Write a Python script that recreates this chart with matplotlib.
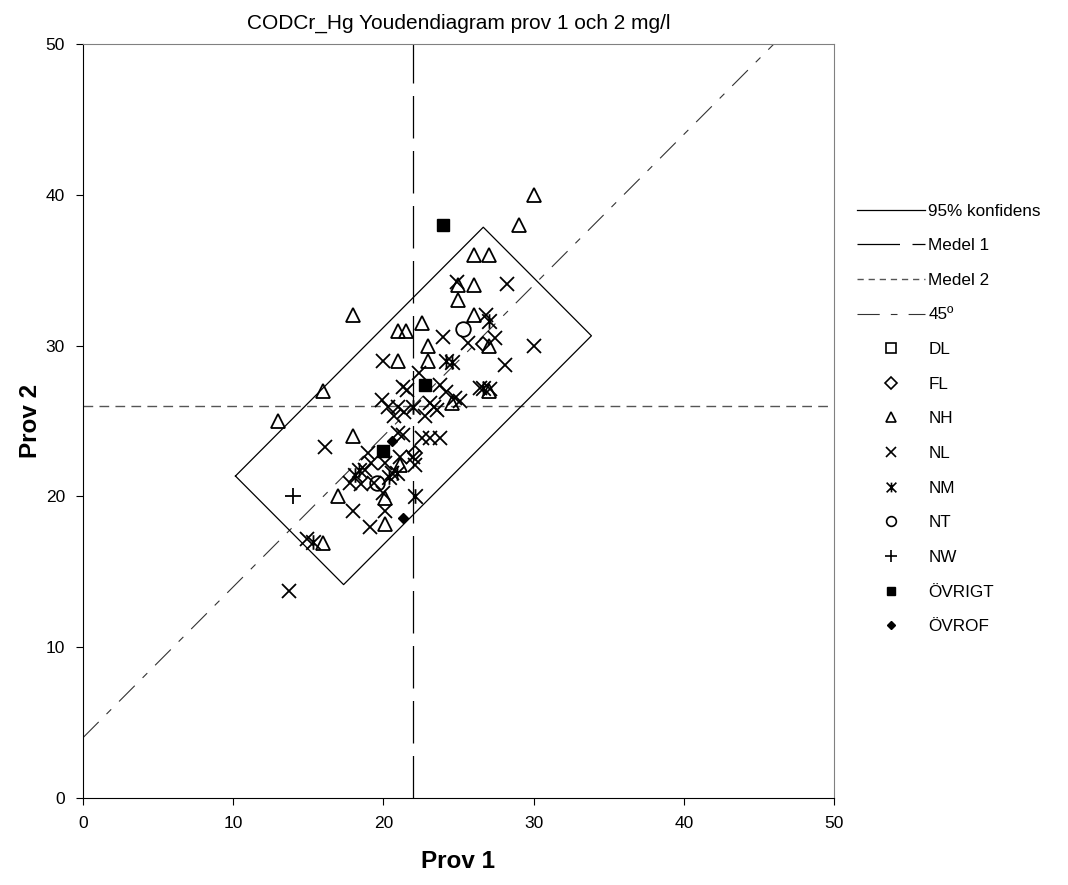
import matplotlib
matplotlib.use('Agg')
import matplotlib.pyplot as plt
from matplotlib.lines import Line2D
from matplotlib.path import Path

plt.rcParams['font.family'] = ['Liberation Sans', 'DejaVu Sans']

# ------------ data ---------------

title = 'CODCr_Hg Youdendiagram prov 1 och 2 mg/l'

medel_1 = 22.0
medel_2 = 26.0
# confidence box: half extents along the 45 degree axis and across it
box_along = 8.25
box_across = 3.6

dl_x, dl_y = [], []
fl_x = [22.1, 26.6]
fl_y = [22.9, 30.1]
nh_x = [30, 29, 26, 27, 18, 21, 21.5, 22.6, 25, 26, 25, 26, 23, 27, 21, 23,
        16, 13, 18, 21.1, 17, 20.1, 20.1, 16, 27, 24.6]
nh_y = [40, 38, 36, 36, 32, 31, 31, 31.5, 34, 34, 33, 32, 30, 30, 29, 29,
        27, 25, 24, 22.1, 20, 19.9, 18.2, 16.9, 27, 26.2]
nl_x = [13.7, 14.9, 16.1, 18, 19.1, 20.1, 20, 20.1, 20.6, 19.4, 17.8, 18.8,
        19.2, 19, 21.1, 22, 22.1, 22.6, 23.1, 23.8, 21.0, 20.7, 22.8, 19.9,
        20.3, 21, 21.4, 23.1, 23.4, 23.6, 24.8, 25.1, 23.8, 24.2, 26.4, 21.3,
        21.6, 22.4, 20, 24, 25.6, 27.4, 26.8, 28.2, 24.9, 30, 28.1, 27.1,
        18.5, 21.3]
nl_y = [13.7, 17.2, 23.3, 19, 18, 19.0, 20.2, 22.2, 21.55, 20.9, 20.9, 21.75,
        22.2, 22.9, 22.6, 22.6, 22.1, 23.9, 23.9, 23.9, 24.2, 25.3, 25.3, 26.4,
        25.9, 25.9, 25.6, 26.2, 25.9, 25.7, 26.5, 26.3, 27.4, 26.9, 27.2, 27.25,
        27.05, 28.2, 29, 30.6, 30.2, 30.5, 32, 34.1, 34.2, 30, 28.7, 27.1,
        20.8, 24.1]
nm_x = [15.3, 18.1, 18.4, 20.4, 20.9, 22.1, 24.2, 24.6, 27, 26.6, 22]
nm_y = [17, 21.4, 21.75, 21.3, 21.55, 20, 29, 28.9, 31.6, 27.2, 25.9]
nt_x = [25.3, 19.6]
nt_y = [31.1, 20.9]
nw_x = [14]
nw_y = [20]
ovrigt_x = [24, 20, 22.8]
ovrigt_y = [38, 23, 27.4]
ovrof_x = [20.6, 21.3]
ovrof_y = [23.7, 18.6]

# asterisk marker: an x with a vertical stroke
asterisk = Path([(-1, -1), (1, 1), (-1, 1), (1, -1), (0, -1), (0, 1)],
                [Path.MOVETO, Path.LINETO] * 3)

# ----------------- plot --------------------

fig = plt.figure(figsize=(10.68, 8.85), dpi=100)
ax = fig.add_axes([0.0777, 0.0983, 0.7032, 0.852])

# confidence box from centre and half extents
corners_x = []
corners_y = []
for sa, sb in [(-1, -1), (1, -1), (1, 1), (-1, 1), (-1, -1)]:
    corners_x.append(medel_1 + sa * box_along + sb * box_across)
    corners_y.append(medel_2 + sa * box_along - sb * box_across)
ax.plot(corners_x, corners_y, color='black', lw=0.9, zorder=2)

ax.axvline(medel_1, color='black', lw=0.9, dashes=(34, 10), zorder=1)
ax.axhline(medel_2, color='#555555', lw=1.0, dashes=(7, 4.5), zorder=1)
ax.axline((0, medel_2 - medel_1), slope=1, color='#333333', lw=0.8,
          dashes=(20, 10, 6, 10), zorder=1)

ms = 10.5
mew = 1.3
ax.plot(fl_x, fl_y, ls='none', marker='D', ms=7, mfc='none', mec='black', mew=mew, zorder=3)
ax.plot(nh_x, nh_y, ls='none', marker='^', ms=ms, mfc='none', mec='black', mew=mew, zorder=3)
ax.plot(nl_x, nl_y, ls='none', marker='x', ms=ms, mec='black', mew=mew, zorder=3)
ax.plot(nm_x, nm_y, ls='none', marker=asterisk, ms=ms, mec='black', mew=mew, zorder=3)
ax.plot(nt_x, nt_y, ls='none', marker='o', ms=ms, mfc='none', mec='black', mew=mew, zorder=3)
ax.plot(nw_x, nw_y, ls='none', marker='+', ms=ms + 1, mec='black', mew=mew, zorder=3)
ax.plot(ovrigt_x, ovrigt_y, ls='none', marker='s', ms=8.5, mfc='black', mec='black', zorder=4)
ax.plot(ovrof_x, ovrof_y, ls='none', marker='D', ms=5.5, mfc='black', mec='black', zorder=4)

ax.set_xlim(0, 50)
ax.set_ylim(0, 50)
ax.set_xticks(range(0, 51, 10))
ax.set_yticks(range(0, 51, 10))
ax.tick_params(direction='out', length=5, width=0.8, labelsize=12.5, pad=8)
for side in ['top', 'right']:
    ax.spines[side].set_color('#808080')
    ax.spines[side].set_linewidth(0.8)
for side in ['left', 'bottom']:
    ax.spines[side].set_linewidth(0.8)

ax.set_title(title, fontsize=15, pad=11)
ax.set_xlabel('Prov 1', fontsize=17.5, fontweight='bold')
ax.set_ylabel('Prov 2', fontsize=17.5, fontweight='bold')
ax.xaxis.set_label_coords(0.5, -0.069)
ax.yaxis.set_label_coords(-0.054, 0.5)

# legend with proxy handles
lm = 7
handles = [
    Line2D([], [], color='black', lw=0.9),
    Line2D([], [], color='black', lw=0.9, dashes=(34, 10)),
    Line2D([], [], color='#555555', lw=1.0, dashes=(4.5, 3.5)),
    Line2D([], [], color='#333333', lw=0.8, dashes=(20, 10, 6, 10)),
    Line2D([], [], ls='none', marker='s', ms=lm, mfc='none', mec='black', mew=1.2),
    Line2D([], [], ls='none', marker='D', ms=lm - 1, mfc='none', mec='black', mew=1.2),
    Line2D([], [], ls='none', marker='^', ms=lm, mfc='none', mec='black', mew=1.2),
    Line2D([], [], ls='none', marker='x', ms=lm, mec='black', mew=1.2),
    Line2D([], [], ls='none', marker=asterisk, ms=lm, mec='black', mew=1.2),
    Line2D([], [], ls='none', marker='o', ms=lm, mfc='none', mec='black', mew=1.2),
    Line2D([], [], ls='none', marker='+', ms=lm + 2, mec='black', mew=1.2),
    Line2D([], [], ls='none', marker='s', ms=lm - 1, mfc='black', mec='black'),
    Line2D([], [], ls='none', marker='D', ms=lm - 3, mfc='black', mec='black'),
]
labels = ['95% konfidens', 'Medel 1', 'Medel 2', '45º', 'DL', 'FL', 'NH', 'NL',
          'NM', 'NT', 'NW', 'ÖVRIGT', 'ÖVROF']
fig.legend(handles, labels, loc='upper left', bbox_to_anchor=(0.8024, 0.77),
           frameon=False, fontsize=12.3, handlelength=3.98, handletextpad=0.2,
           labelspacing=1.15, borderpad=0, borderaxespad=0)

fig.savefig('out.png', dpi=100)
